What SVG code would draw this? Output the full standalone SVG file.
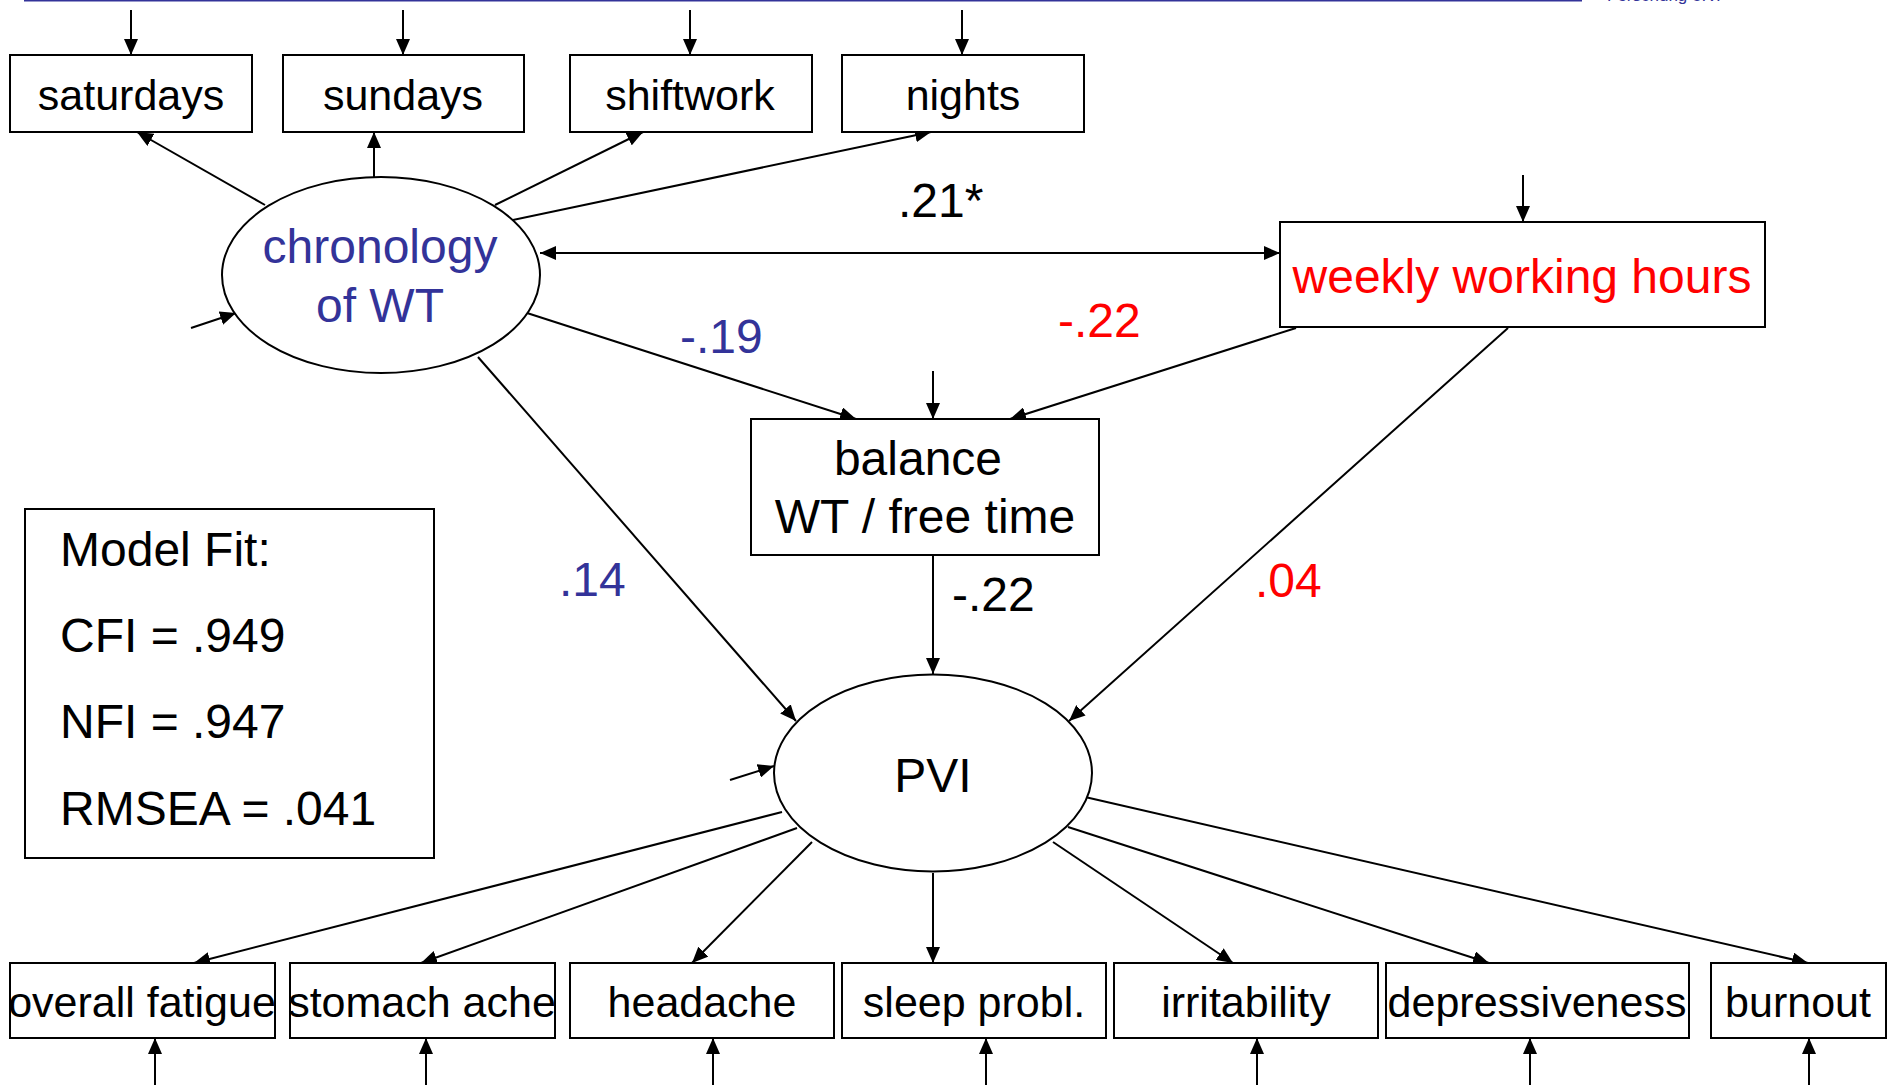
<svg xmlns="http://www.w3.org/2000/svg" width="1888" height="1085" viewBox="0 0 1888 1085">
<style>
  .box { fill: #fff; stroke: #000; stroke-width: 2; }
  .ell { fill: #fff; stroke: #000; stroke-width: 2; }
  .t { font-family: "Liberation Sans", Arial, sans-serif; fill: #000; }
  .sm { font-size: 43px; text-anchor: middle; }
  .lg { font-size: 48px; }
  .mid { text-anchor: middle; }
  .blue { fill: #333399; }
  .red { fill: #ff0000; }
  .ln { stroke: #000; stroke-width: 2; fill: none; marker-end: url(#ah); }
  .dbl { stroke: #000; stroke-width: 2; fill: none; marker-end: url(#ah); marker-start: url(#ah); }
</style>
<defs>
  <marker id="ah" viewBox="0 0 16 14" refX="16" refY="7" markerWidth="16" markerHeight="14" markerUnits="userSpaceOnUse" orient="auto-start-reverse">
    <path d="M0,0 L16,7 L0,14 Z" fill="#000"/>
  </marker>
</defs>
<rect width="1888" height="1085" fill="#fff"/>

<g id="header">
  <line x1="24" y1="0.5" x2="1582" y2="0.5" stroke="#333399" stroke-width="2"/>
  <text x="1607" y="1" class="t blue" font-size="17">Forschung e.V.</text>
</g>

<g id="connectors">
  <line class="ln" x1="131" y1="10" x2="131" y2="55"/>
  <line class="ln" x1="403" y1="10" x2="403" y2="55"/>
  <line class="ln" x1="690" y1="10" x2="690" y2="55"/>
  <line class="ln" x1="962" y1="10" x2="962" y2="55"/>
  <line class="ln" x1="1523" y1="175" x2="1523" y2="222"/>
  <line class="ln" x1="933" y1="371" x2="933" y2="419"/>
  <line class="ln" x1="191" y1="328" x2="236" y2="313"/>
  <line class="ln" x1="730" y1="780" x2="774" y2="766"/>
  <line class="ln" x1="265" y1="205" x2="137" y2="132"/>
  <line class="ln" x1="374" y1="177" x2="374" y2="132"/>
  <line class="ln" x1="495" y1="205" x2="643" y2="132"/>
  <line class="ln" x1="508" y1="221" x2="931" y2="132"/>
  <line class="dbl" x1="540" y1="253" x2="1280" y2="253"/>
  <line class="ln" x1="527" y1="313" x2="856" y2="419"/>
  <line class="ln" x1="1296" y1="328" x2="1010" y2="419"/>
  <line class="ln" x1="478" y1="357" x2="796" y2="721"/>
  <line class="ln" x1="933" y1="555" x2="933" y2="674"/>
  <line class="ln" x1="1508" y1="328" x2="1069" y2="721"/>
  <line class="ln" x1="782" y1="812" x2="194" y2="963"/>
  <line class="ln" x1="797" y1="828" x2="421" y2="963"/>
  <line class="ln" x1="812" y1="842" x2="692" y2="963"/>
  <line class="ln" x1="933" y1="873" x2="933" y2="963"/>
  <line class="ln" x1="1053" y1="842" x2="1233" y2="963"/>
  <line class="ln" x1="1068" y1="827" x2="1489" y2="963"/>
  <line class="ln" x1="1085" y1="797" x2="1808" y2="963"/>
  <line class="ln" x1="155" y1="1085" x2="155" y2="1038"/>
  <line class="ln" x1="426" y1="1085" x2="426" y2="1038"/>
  <line class="ln" x1="713" y1="1085" x2="713" y2="1038"/>
  <line class="ln" x1="986" y1="1085" x2="986" y2="1038"/>
  <line class="ln" x1="1257" y1="1085" x2="1257" y2="1038"/>
  <line class="ln" x1="1530" y1="1085" x2="1530" y2="1038"/>
  <line class="ln" x1="1809" y1="1085" x2="1809" y2="1038"/>
</g>

<g id="labels">
  <text x="898" y="217" class="t lg">.21*</text>
  <text x="680" y="353" class="t lg blue">-.19</text>
  <text x="1058" y="337" class="t lg red">-.22</text>
  <text x="559" y="596" class="t lg blue">.14</text>
  <text x="952" y="611" class="t lg">-.22</text>
  <text x="1255" y="597" class="t lg red">.04</text>
</g>

<g id="saturdays"><rect class="box" x="10" y="55" width="242" height="77"/><text x="131" y="110" class="t sm">saturdays</text></g>
<g id="sundays"><rect class="box" x="283" y="55" width="241" height="77"/><text x="403" y="110" class="t sm">sundays</text></g>
<g id="shiftwork"><rect class="box" x="570" y="55" width="242" height="77"/><text x="690" y="110" class="t sm">shiftwork</text></g>
<g id="nights"><rect class="box" x="842" y="55" width="242" height="77"/><text x="963" y="110" class="t sm">nights</text></g>

<g id="chronology">
  <ellipse class="ell" cx="381" cy="275" rx="159" ry="98"/>
  <text x="380" y="263" class="t lg mid blue">chronology</text>
  <text x="380" y="322" class="t lg mid blue">of WT</text>
</g>

<g id="weekly">
  <rect class="box" x="1280" y="222" width="485" height="105"/>
  <text x="1522" y="293" class="t lg mid red">weekly working hours</text>
</g>

<g id="balance">
  <rect class="box" x="751" y="419" width="348" height="136"/>
  <text x="918" y="475" class="t lg mid">balance</text>
  <text x="925" y="533" class="t lg mid">WT / free time</text>
</g>

<g id="modelfit">
  <rect class="box" x="25" y="509" width="409" height="349"/>
  <text x="60" y="566" class="t lg">Model Fit:</text>
  <text x="60" y="652" class="t lg">CFI = .949</text>
  <text x="60" y="738" class="t lg">NFI = .947</text>
  <text x="60" y="825" class="t lg">RMSEA = .041</text>
</g>

<g id="pvi">
  <ellipse class="ell" cx="933" cy="773" rx="159" ry="98.5"/>
  <text x="933" y="792" class="t lg mid">PVI</text>
</g>

<g id="overall-fatigue"><rect class="box" x="10" y="963" width="265" height="75"/><text x="142" y="1017" class="t sm">overall fatigue</text></g>
<g id="stomach-ache"><rect class="box" x="290" y="963" width="265" height="75"/><text x="422" y="1017" class="t sm">stomach ache</text></g>
<g id="headache"><rect class="box" x="570" y="963" width="264" height="75"/><text x="702" y="1017" class="t sm">headache</text></g>
<g id="sleep"><rect class="box" x="842" y="963" width="264" height="75"/><text x="974" y="1017" class="t sm">sleep probl.</text></g>
<g id="irritability"><rect class="box" x="1114" y="963" width="264" height="75"/><text x="1246" y="1017" class="t sm">irritability</text></g>
<g id="depressiveness"><rect class="box" x="1386" y="963" width="303" height="75"/><text x="1537" y="1017" class="t sm">depressiveness</text></g>
<g id="burnout"><rect class="box" x="1711" y="963" width="175" height="75"/><text x="1798" y="1017" class="t sm">burnout</text></g>
</svg>
